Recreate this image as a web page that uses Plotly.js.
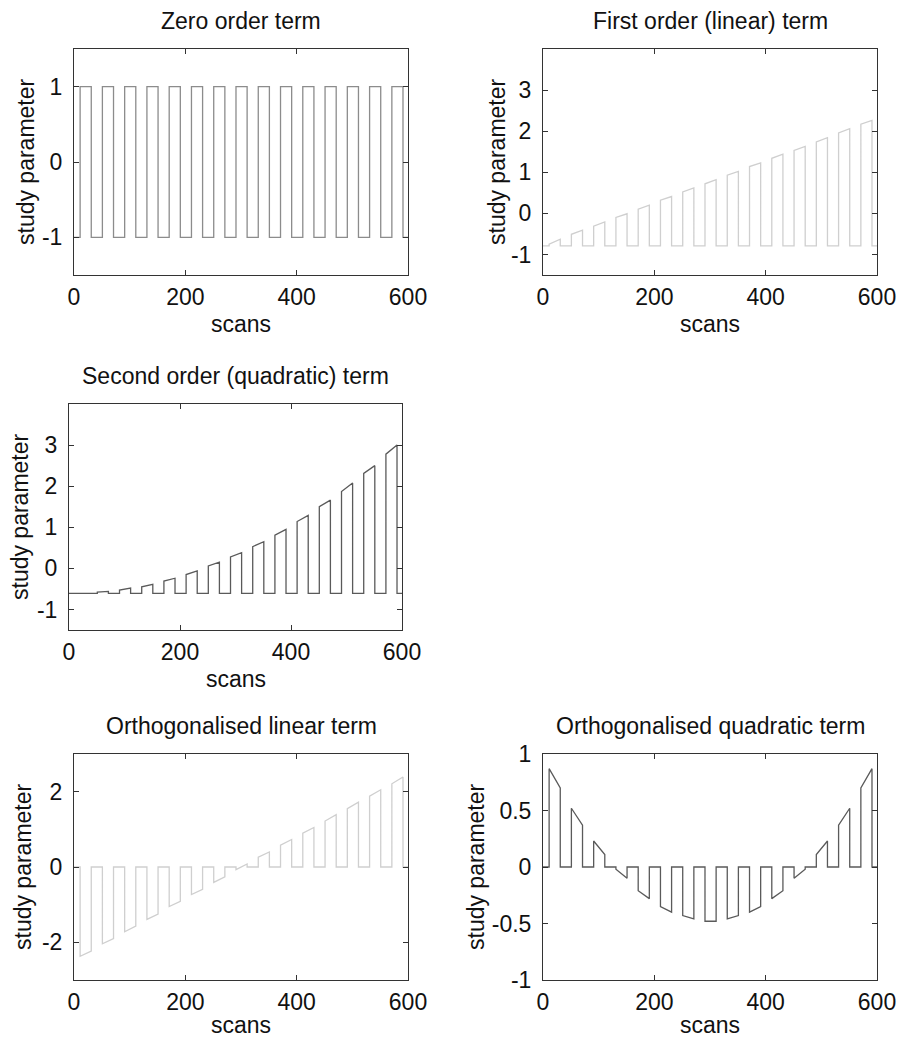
<!DOCTYPE html>
<html>
<head>
<meta charset="utf-8">
<script src="https://cdn.plot.ly/plotly-3.0.1.min.js"></script>
<style>html,body{margin:0;padding:0;background:#fff;}#chart{width:899px;height:1038px;}</style>
</head>
<body>
<div id="chart"></div>
<script>
// ---------- data ----------
const blockOnsets  = [11, 51, 91, 131, 171, 211, 251, 291, 331, 371, 411, 451, 491, 531, 571];
const blockOffsets = [31, 71, 111, 151, 191, 231, 271, 311, 351, 391, 431, 471, 511, 551, 591];
const scanEnd = 600;

// Zero order term
const zeroBase   = -1;
const zeroStart  = [1, 1, 1, 1, 1, 1, 1, 1, 1, 1, 1, 1, 1, 1, 1];
const zeroEnd    = [1, 1, 1, 1, 1, 1, 1, 1, 1, 1, 1, 1, 1, 1, 1];

// First order (linear) term
const linBase    = -0.79;
const linStart   = [-0.75, -0.51, -0.31, -0.10, 0.10, 0.32, 0.52, 0.72, 0.93, 1.14, 1.34, 1.53, 1.74, 1.96, 2.17];
const linEnd     = [-0.63, -0.41, -0.21, -0.01, 0.20, 0.41, 0.62, 0.82, 1.02, 1.23, 1.44, 1.63, 1.84, 2.06, 2.26];

// Second order (quadratic) term
const quadBase   = -0.61;
const quadStart  = [-0.61, -0.58, -0.53, -0.45, -0.31, -0.15, 0.06, 0.28, 0.53, 0.81, 1.14, 1.50, 1.87, 2.31, 2.78];
const quadEnd    = [-0.60, -0.56, -0.48, -0.39, -0.24, -0.06, 0.15, 0.38, 0.65, 0.95, 1.29, 1.66, 2.08, 2.50, 3.00];

// Orthogonalised linear term
const oLinBase   = 0;
const oLinStart  = [-2.37, -2.04, -1.72, -1.39, -1.05, -0.73, -0.41, -0.07, 0.26, 0.58, 0.90, 1.22, 1.55, 1.88, 2.21];
const oLinEnd    = [-2.23, -1.90, -1.57, -1.25, -0.91, -0.59, -0.26, 0.08, 0.40, 0.73, 1.05, 1.39, 1.72, 2.05, 2.39];

// Orthogonalised quadratic term
const oQuadBase  = 0;
const oQuadStart = [0.87, 0.52, 0.23, -0.02, -0.21, -0.35, -0.43, -0.48, -0.46, -0.40, -0.28, -0.10, 0.11, 0.37, 0.70];
const oQuadEnd   = [0.70, 0.37, 0.11, -0.10, -0.28, -0.40, -0.46, -0.48, -0.43, -0.35, -0.21, -0.02, 0.23, 0.52, 0.87];

// titles and tick labels
const plotTitles = ["Zero order term", "First order (linear) term", "Second order (quadratic) term",
                    "Orthogonalised linear term", "Orthogonalised quadratic term"];
const xTitle = "scans";
const yTitle = "study parameter";
const xTickVals = [0, 200, 400, 600];
const xTickText = ["0", "200", "400", "600"];
const yTickVals1 = [-1, 0, 1];            const yTickText1 = ["-1", "0", "1"];
const yTickVals2 = [-1, 0, 1, 2, 3];      const yTickText2 = ["-1", "0", "1", "2", "3"];
const yTickVals3 = [-1, 0, 1, 2, 3];      const yTickText3 = ["-1", "0", "1", "2", "3"];
const yTickVals4 = [-2, 0, 2];            const yTickText4 = ["-2", "0", "2"];
const yTickVals5 = [-1, -0.5, 0, 0.5, 1]; const yTickText5 = ["-1", "-0.5", "0", "0.5", "1"];

// ---------- build ----------
function blockSeries(base, starts, ends) {
  const x = [0], y = [base];
  for (let i = 0; i < blockOnsets.length; i++) {
    x.push(blockOnsets[i], blockOnsets[i], blockOffsets[i], blockOffsets[i]);
    y.push(base, starts[i], ends[i], base);
  }
  x.push(scanEnd); y.push(base);
  return {x, y};
}

const W = 899, H = 1038;
const px = v => v / W;
const py = v => 1 - v / H;

// plot frames in pixels: [left, right, top, bottom]
const frames = [
  [74, 408, 49, 275],
  [543, 877, 49, 275],
  [69, 402, 404, 630],
  [74, 408, 754, 980],
  [543, 877, 754, 980]
];
const yRanges = [[-1.5, 1.5], [-1.5, 4], [-1.5, 4], [-3, 3], [-1, 1]];
const yTV = [yTickVals1, yTickVals2, yTickVals3, yTickVals4, yTickVals5];
const yTT = [yTickText1, yTickText2, yTickText3, yTickText4, yTickText5];
const colors = ["#8c8c8c", "#cfcfcf", "#5a5a5a", "#cfcfcf", "#5a5a5a"];
const series = [
  blockSeries(zeroBase, zeroStart, zeroEnd),
  blockSeries(linBase, linStart, linEnd),
  blockSeries(quadBase, quadStart, quadEnd),
  blockSeries(oLinBase, oLinStart, oLinEnd),
  blockSeries(oQuadBase, oQuadStart, oQuadEnd)
];

const FONT = "Liberation Sans, Arial, Helvetica, sans-serif";
const data = [];
const layout = {
  width: W, height: H,
  margin: {l: 0, r: 0, t: 0, b: 0},
  paper_bgcolor: "#fff", plot_bgcolor: "#fff",
  showlegend: false,
  font: {family: FONT, size: 23, color: "#111"},
  annotations: []
};

const yTitleX = [26, 497, 20, 23, 476];
const xTitleOffset = [49, 49, 49, 45, 45];

for (let i = 0; i < 5; i++) {
  const n = i + 1;
  const xa = "x" + (n === 1 ? "" : n), ya = "y" + (n === 1 ? "" : n);
  data.push({
    type: "scatter", mode: "lines",
    x: series[i].x, y: series[i].y,
    xaxis: xa, yaxis: ya,
    line: {color: colors[i], width: 1.3},
    hoverinfo: "skip"
  });
  const f = frames[i];
  const common = {
    showline: true, linecolor: "#333", linewidth: 1,
    mirror: "ticks", ticks: "inside", ticklen: 5, tickcolor: "#333", tickwidth: 1,
    showgrid: false, zeroline: false, fixedrange: true,
    tickfont: {family: FONT, size: 23, color: "#111"}
  };
  layout["xaxis" + (n === 1 ? "" : n)] = Object.assign({}, common, {
    domain: [px(f[0]), px(f[1])], range: [0, 600], anchor: ya,
    tickmode: "array", tickvals: xTickVals, ticktext: xTickText,
    ticklabelstandoff: 1
  });
  layout["yaxis" + (n === 1 ? "" : n)] = Object.assign({}, common, {
    domain: [py(f[3]), py(f[2])], range: yRanges[i], anchor: xa,
    tickmode: "array", tickvals: yTV[i], ticktext: yTT[i],
    ticklabelstandoff: 6
  });
  const cx = (f[0] + f[1]) / 2;
  layout.annotations.push({
    text: plotTitles[i], xref: "paper", yref: "paper",
    x: px(cx), y: py(f[2] - 28), xanchor: "center", yanchor: "middle",
    showarrow: false, font: {family: FONT, size: 23, color: "#111"}
  });
  layout.annotations.push({
    text: xTitle, xref: "paper", yref: "paper",
    x: px(cx), y: py(f[3] + xTitleOffset[i]), xanchor: "center", yanchor: "middle",
    showarrow: false, font: {family: FONT, size: 23, color: "#111"}
  });
  layout.annotations.push({
    text: yTitle, xref: "paper", yref: "paper", textangle: -90,
    x: px(yTitleX[i]), y: py((f[2] + f[3]) / 2), xanchor: "center", yanchor: "middle",
    showarrow: false, font: {family: FONT, size: 23, color: "#111"}
  });
}

Plotly.newPlot("chart", data, layout, {staticPlot: true, displayModeBar: false});
</script>
</body>
</html>
